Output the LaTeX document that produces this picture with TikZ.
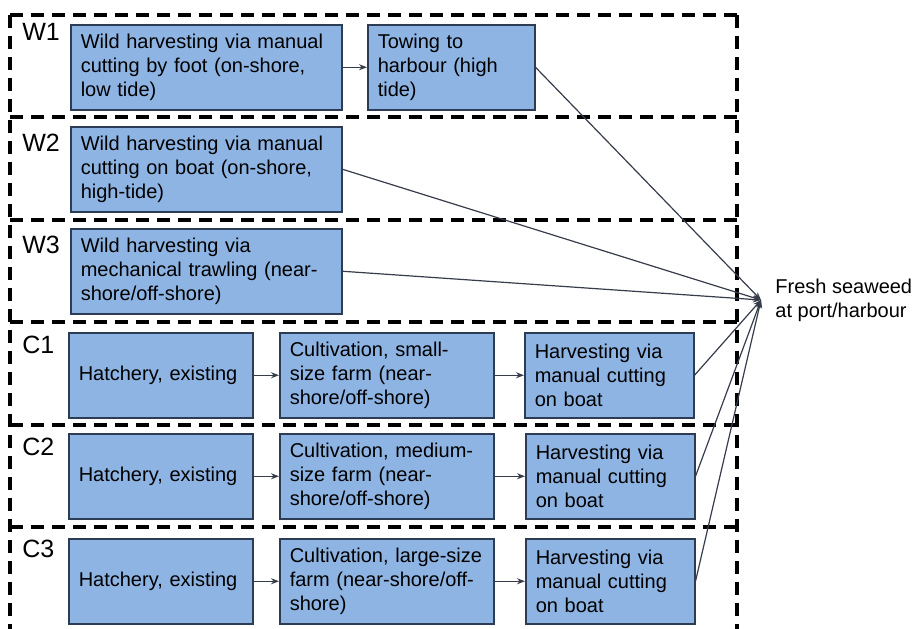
\documentclass[tikz,border=0pt]{standalone}
\usepackage{fontspec}
\setmainfont{Liberation Sans}
\usetikzlibrary{arrows.meta}

\definecolor{cajaazul}{RGB}{142,180,227}
\definecolor{bordeazul}{RGB}{45,60,85}
\definecolor{flecha}{RGB}{55,60,75}

\begin{document}
\begin{tikzpicture}[
    x=0.5pt, y=-0.5pt,
    % Estilos para las cajas y lineas
    caja/.style={draw=bordeazul, fill=cajaazul, line width=0.75pt, anchor=north west,
        inner xsep=5pt, inner ysep=0pt, minimum height=42.5pt, align=left,
        font=\fontsize{10}{12}\selectfont},
    etiqueta/.style={anchor=west, inner sep=0pt, font=\fontsize{12.5}{14}\selectfont},
    division/.style={dash pattern=on 6.5pt off 4pt, line width=1.7pt},
    flujo/.style={draw=flecha, line width=0.6pt, -{Stealth[length=4pt, width=3pt]}}
    ]

    \useasboundingbox (0,0) rectangle (915,628);
    \clip (0,0) rectangle (915,628);

    % Marco y divisiones
    \draw[division] (10,15) -- (737,15);
    \draw[division] (10,15) -- (10,640);
    \draw[division] (737,15) -- (737,640);
    \foreach \y in {117,220,322,425,527}
        \draw[division] (10,\y) -- (737,\y);

    % Etiquetas de filas
    \node[etiqueta] (lw1) at (22,32) {W1};
    \node[etiqueta] (lw2) at (22,143) {W2};
    \node[etiqueta] (lw3) at (22,245) {W3};
    \node[etiqueta] (lc1) at (22,345) {C1};
    \node[etiqueta] (lc2) at (22,447) {C2};
    \node[etiqueta] (lc3) at (22,549) {C3};

    % COSECHA SILVESTRE
    \node[caja, text width=125.5pt] (w1a) at (70,24) {Wild harvesting via manual\\cutting by foot (on-shore,\\low tide)};
    \node[caja, text width=73.5pt] (w1b) at (367,24) {Towing to\\harbour (high\\tide)};
    \draw[flujo] (w1a) -- (w1b);

    \node[caja, text width=125.5pt] (w2) at (70,126) {Wild harvesting via manual\\cutting on boat (on-shore,\\high-tide)};

    \node[caja, text width=125.5pt] (w3) at (70,228) {Wild harvesting via\\mechanical trawling (near-\\shore/off-shore)};

    % CULTIVO
    % C1
    \node[caja, text width=82pt] (hat1) at (68,332) {Hatchery, existing};
    \node[caja, text width=97pt] (cul1) at (279,332) {Cultivation, small-\\size farm (near-\\shore/off-shore)};
    \node[caja, text width=74.5pt] (har1) at (524,332) {Harvesting via\\manual cutting\\on boat};
    \draw[flujo] (hat1) -- (cul1);
    \draw[flujo] (cul1) -- (har1);

    % C2
    \node[caja, text width=82pt] (hat2) at (68,433) {Hatchery, existing};
    \node[caja, text width=97pt] (cul2) at (279,433) {Cultivation, medium-\\size farm (near-\\shore/off-shore)};
    \node[caja, text width=74.5pt] (har2) at (525,433) {Harvesting via\\manual cutting\\on boat};
    \draw[flujo] (hat2) -- (cul2);
    \draw[flujo] (cul2) -- (har2);

    % C3
    \node[caja, text width=82pt] (hat3) at (68,538) {Hatchery, existing};
    \node[caja, text width=97pt] (cul3) at (279,538) {Cultivation, large-size\\farm (near-shore/off-\\shore)};
    \node[caja, text width=74.5pt] (har3) at (525,538) {Harvesting via\\manual cutting\\on boat};
    \draw[flujo] (hat3) -- (cul3);
    \draw[flujo] (cul3) -- (har3);

    % Destino final
    \coordinate (puerto) at (761,300);
    \node[anchor=west, inner sep=0pt, align=left, font=\fontsize{10}{12}\selectfont] (fresco) at (775,300) {Fresh seaweed\\at port/harbour};

    \draw[flujo] (w1b.east) -- (puerto);
    \draw[flujo] (w2.east) -- (puerto);
    \draw[flujo] (w3.east) -- (puerto);
    \draw[flujo] (har1.east) -- (puerto);
    \draw[flujo] (har2.east) -- (puerto);
    \draw[flujo] (har3.east) -- (puerto);

\end{tikzpicture}
\end{document}
